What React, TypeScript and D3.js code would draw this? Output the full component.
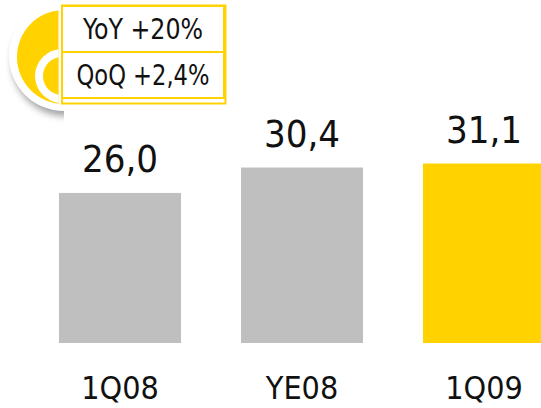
import React from "react";
import * as d3 from "d3";

const categories = ["1Q08", "YE08", "1Q09"];
const values = [26.0, 30.4, 31.1];
const valueLabels = ["26,0", "30,4", "31,1"];
const barColors = ["#bfbfbf", "#bfbfbf", "#ffd200"];
const growthLabels = ["YoY +20%", "QoQ +2,4%"];

const width = 541;
const height = 408;
const font = "'DejaVu Sans', sans-serif";

export default function App() {
  const x = d3.scaleBand<string>().domain(categories).range([59, 545]).paddingInner(60 / 182).paddingOuter(0);
  const y = d3.scaleLinear().domain([0, 31.1]).range([343, 163.5]);
  const disc = d3.arc();
  const big = disc({ innerRadius: 0, outerRadius: 47, startAngle: 0, endAngle: Math.PI * 2 }) as string;
  const small = disc({ innerRadius: 0, outerRadius: 19, startAngle: 0, endAngle: Math.PI * 2 }) as string;
  return (
    <svg width={width} height={height} style={{ position: "fixed", left: 0, top: 0, background: "#fff", fontStretch: "condensed" }} fontFamily={font}>
      <defs>
        <filter id="soft" x="-30%" y="-30%" width="160%" height="160%">
          <feGaussianBlur stdDeviation="3.5" />
        </filter>
        <clipPath id="badge-left">
          <rect x={0} y={0} width={64} height={125} />
        </clipPath>
        <clipPath id="disc-left">
          <rect x={0} y={0} width={58.5} height={120} />
        </clipPath>
      </defs>

      {/* badge behind the growth boxes */}
      <g clipPath="url(#badge-left)">
        <circle cx={66} cy={62} r={54} fill="#6e6e6e" opacity={0.65} filter="url(#soft)" />
        <circle cx={64} cy={56} r={55} fill="#fff" />
      </g>
      <g clipPath="url(#disc-left)">
        <path d={big} transform="translate(64,57)" fill="#ffd200" />
        <circle cx={62} cy={76} r={27} fill="#fff" />
        <path d={small} transform="translate(62,76)" fill="#ffd200" />
      </g>

      {/* growth boxes */}
      <rect x={62} y={5.5} width={163.5} height={98} fill="#fff" stroke="#ffd200" strokeWidth={2} />
      <rect x={62} y={6} width={162} height={46} fill="#fff" stroke="#ffd200" strokeWidth={2} />
      <rect x={62} y={52} width={162} height={46} fill="#fff" stroke="#ffd200" strokeWidth={2} />
      <text x={143} y={39} textAnchor="middle" fontSize={29} fill="#111" textLength={120} lengthAdjust="spacingAndGlyphs">{growthLabels[0]}</text>
      <text x={143} y={85} textAnchor="middle" fontSize={29} fill="#111" textLength={133} lengthAdjust="spacingAndGlyphs">{growthLabels[1]}</text>

      {/* bars, values and category labels */}
      {categories.map((c, i) => (
        <g key={c}>
          <rect x={x(c)} y={y(values[i])} width={x.bandwidth()} height={343 - y(values[i])} fill={barColors[i]} />
          <text x={x(c)! + 61} y={y(values[i]) - 21} textAnchor="middle" fontSize={38} fill="#111">{valueLabels[i]}</text>
          <text x={x(c)! + 61} y={399} textAnchor="middle" fontSize={32} fill="#111">{c}</text>
        </g>
      ))}
    </svg>
  );
}
